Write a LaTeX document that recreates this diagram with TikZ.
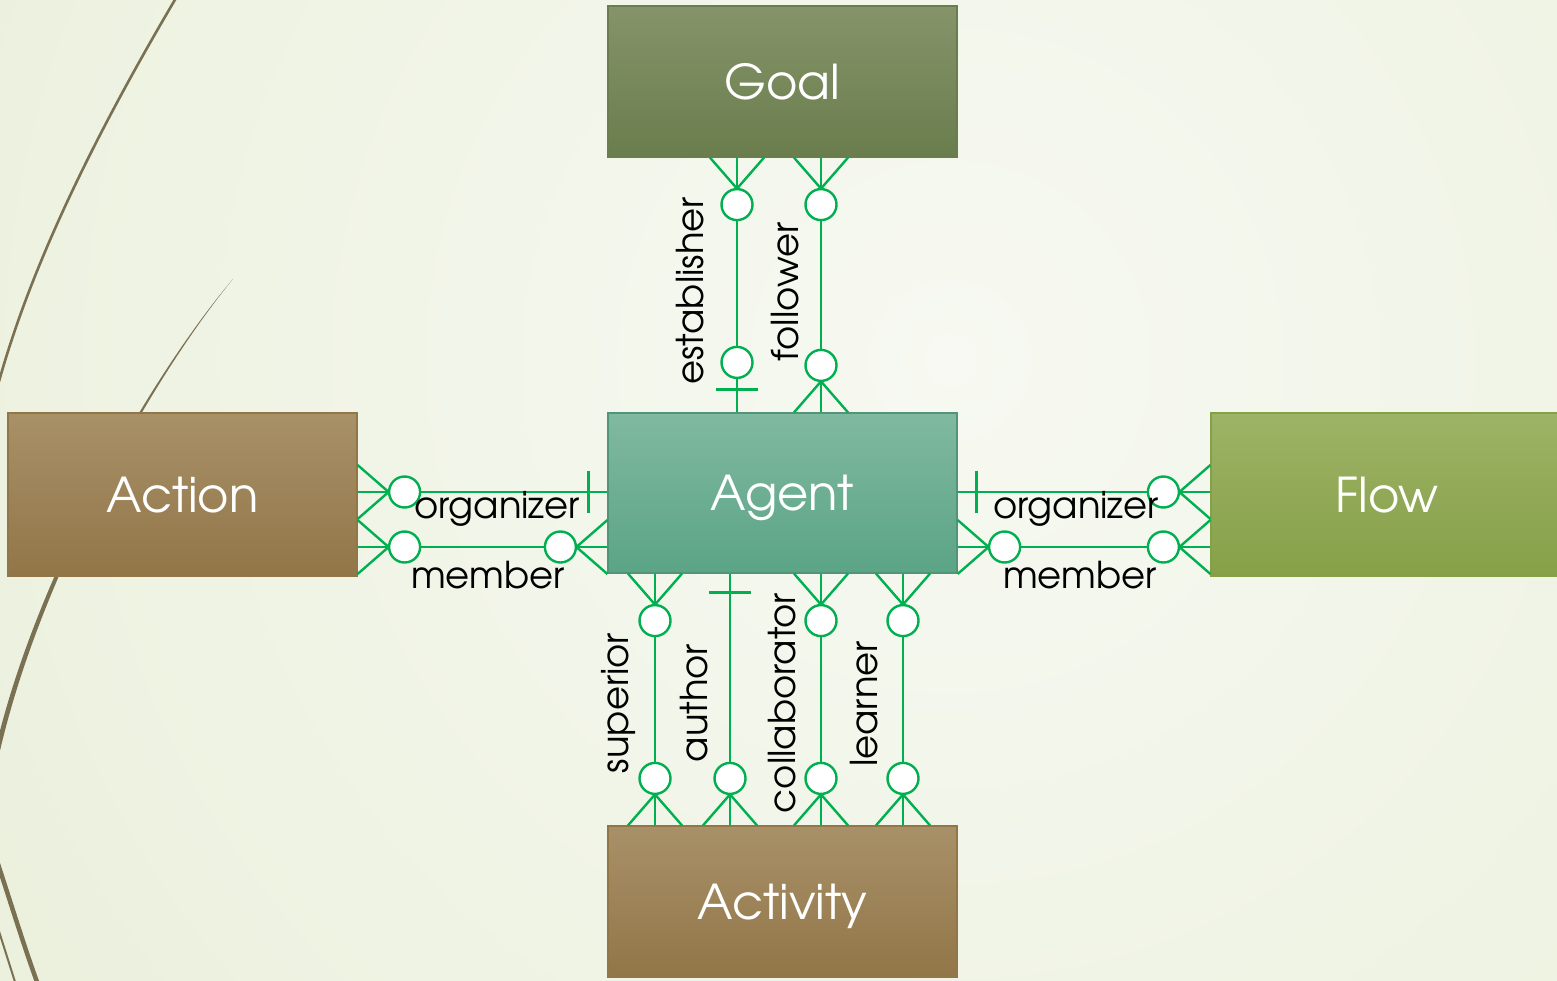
\documentclass[tikz,border=0pt]{standalone}
\usepackage{fontspec}
\setmainfont{TeX Gyre Adventor}
\usetikzlibrary{calc}
\definecolor{rel}{HTML}{00B050}
\definecolor{curvec}{HTML}{7A7052}
\definecolor{bgin}{HTML}{F7F9F2}
\definecolor{bgout}{HTML}{E2EACD}
\definecolor{goaltop}{HTML}{85946A}
\definecolor{goalbot}{HTML}{6A7D4C}
\definecolor{agenttop}{HTML}{80B9A0}
\definecolor{agentbot}{HTML}{5BA486}
\definecolor{browntop}{HTML}{A89068}
\definecolor{brownbot}{HTML}{927648}
\definecolor{flowtop}{HTML}{9DB366}
\definecolor{flowbot}{HTML}{86A048}
\tikzset{
  entity/.style={minimum width=349pt, minimum height=151pt, inner sep=0pt,
    text=white, font=\fontsize{48}{58}\selectfont, text depth=0pt, line width=1.2pt},
  relline/.style={draw=rel, line width=2.4pt},
  lbl/.style={font=\fontsize{37}{44}\selectfont, text=black, inner sep=0pt, anchor=base},
  zeromany/.pic={\draw[relline] (0,27)--(31,0)--(0,-27);
                 \draw[relline, fill=white] (47,0) circle[radius=15.5];},
  onlyone/.pic={\draw[relline] (19,21)--(19,-21);},
  zeroone/.pic={\draw[relline] (23,21)--(23,-21);
                \draw[relline, fill=white] (50,0) circle[radius=15.5];},
}
\begin{document}
\begin{tikzpicture}[x=1pt,y=-1pt]
\clip (0,0) rectangle (1557,980);
\shade[inner color=bgin, outer color=bgout] (950,360) circle[radius=2000];
% background curves
\draw[curvec, line width=2.6pt] (176,-2) .. controls (110,110) and (35,250) .. (-2,385);
\fill[curvec] (233,279) .. controls (150,380) and (25,600) .. (-8,790)
   -- (-13,790) .. controls (20,600) and (147,380) .. (233,279) -- cycle;
\draw[curvec, line width=4.5pt] (-5,855) .. controls (10,900) and (25,950) .. (40,990);
\draw[curvec, line width=2pt] (-3,925) -- (16,985);
% entities
\node[entity, top color=goaltop, bottom color=goalbot, draw=goalbot] (goal) at (782.5,81.5) {Goal};
\node[entity, minimum height=160pt, top color=agenttop, bottom color=agentbot, draw=agentbot!90!black] (agent) at (782.5,493) {Agent};
\node[entity, minimum height=163pt, top color=browntop, bottom color=brownbot, draw=brownbot] (action) at (182.5,494.5) {Action};
\node[entity, minimum width=352pt, minimum height=163pt, top color=flowtop, bottom color=flowbot, draw=flowbot] (flow) at (1387,494.5) {Flow};
\node[entity, top color=browntop, bottom color=brownbot, draw=brownbot] (activity) at (782.5,901.5) {Activity};
% connector positions
\coordinate (xe) at (737,0);
\coordinate (xf) at (821,0);
\coordinate (xs) at (655,0);
\coordinate (xa) at (730,0);
\coordinate (xc) at (821,0);
\coordinate (xl) at (903,0);
\coordinate (yo) at (0,492);
\coordinate (ym) at (0,547);
% top: Goal - Agent
\draw[relline] (goal.south -| xe) -- (agent.north -| xe);
\pic[rotate=-90] at (goal.south -| xe) {zeromany};
\pic[rotate=90] at (agent.north -| xe) {zeroone};
\draw[relline] (goal.south -| xf) -- (agent.north -| xf);
\pic[rotate=-90] at (goal.south -| xf) {zeromany};
\pic[rotate=90] at (agent.north -| xf) {zeromany};
% left: Action - Agent
\draw[relline] (action.east |- yo) -- (agent.west |- yo);
\pic at (action.east |- yo) {zeromany};
\pic[rotate=180] at (agent.west |- yo) {onlyone};
\draw[relline] (action.east |- ym) -- (agent.west |- ym);
\pic at (action.east |- ym) {zeromany};
\pic[rotate=180] at (agent.west |- ym) {zeromany};
% right: Agent - Flow
\draw[relline] (agent.east |- yo) -- (flow.west |- yo);
\pic at (agent.east |- yo) {onlyone};
\pic[rotate=180] at (flow.west |- yo) {zeromany};
\draw[relline] (agent.east |- ym) -- (flow.west |- ym);
\pic at (agent.east |- ym) {zeromany};
\pic[rotate=180] at (flow.west |- ym) {zeromany};
% bottom: Agent - Activity
\draw[relline] (agent.south -| xs) -- (activity.north -| xs);
\pic[rotate=-90] at (agent.south -| xs) {zeromany};
\pic[rotate=90] at (activity.north -| xs) {zeromany};
\draw[relline] (agent.south -| xa) -- (activity.north -| xa);
\pic[rotate=-90] at (agent.south -| xa) {onlyone};
\pic[rotate=90] at (activity.north -| xa) {zeromany};
\draw[relline] (agent.south -| xc) -- (activity.north -| xc);
\pic[rotate=-90] at (agent.south -| xc) {zeromany};
\pic[rotate=90] at (activity.north -| xc) {zeromany};
\draw[relline] (agent.south -| xl) -- (activity.north -| xl);
\pic[rotate=-90] at (agent.south -| xl) {zeromany};
\pic[rotate=90] at (activity.north -| xl) {zeromany};
% labels
\node[lbl] (lorgl) at (497,518) {organizer};
\node[lbl] (lmeml) at (488,588) {member};
\node[lbl] (lorgr) at (1076,518) {organizer};
\node[lbl] (lmemr) at (1080,588) {member};
\node[lbl, rotate=90] (lest) at (703,291) {establisher};
\node[lbl, rotate=90] (lfol) at (798,292) {follower};
\node[lbl, rotate=90] (lsup) at (628,703) {superior};
\node[lbl, rotate=90] (laut) at (707,703) {author};
\node[lbl, rotate=90] (lcol) at (795,703) {collaborator};
\node[lbl, rotate=90] (llea) at (877,704) {learner};
\end{tikzpicture}
\end{document}
